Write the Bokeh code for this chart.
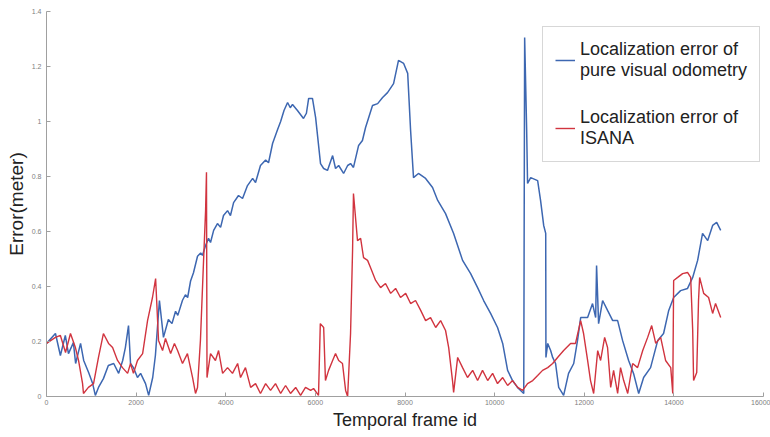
from bokeh.plotting import figure
from bokeh.models import FixedTicker, Legend, LegendItem
from bokeh.embed import file_html
from bokeh.resources import INLINE

# ---- data ----
vo_frame = [0, 200, 310, 420, 490, 600, 650, 760, 830, 940, 1030, 1090, 1160, 1270, 1380, 1500,
            1610, 1700, 1760, 1830, 1875, 1940, 2030, 2100, 2210, 2280, 2370, 2430, 2520, 2610,
            2720, 2800, 2880, 2930, 3035, 3100, 3150, 3215, 3280, 3370, 3440, 3480, 3550, 3615,
            3660, 3730, 3815, 3885, 3950, 4040, 4105, 4175, 4285, 4375, 4485, 4600, 4665, 4775,
            4890, 4955, 5045, 5155, 5225, 5300, 5380, 5440, 5490, 5600, 5735, 5800, 5850, 5935,
            6005, 6115, 6185, 6270, 6385, 6450, 6520, 6630, 6720, 6785, 6850, 6965, 7050, 7120,
            7275, 7390, 7500, 7610, 7745, 7855, 7970, 8060, 8125, 8190, 8300, 8460, 8615, 8730,
            8905, 9085, 9285, 9465, 9620, 9755, 9910, 10065, 10180, 10290, 10400, 10510, 10580,
            10650, 10670, 10715, 10735, 10805, 10960, 11025, 11095, 11140, 11145, 11185, 11250,
            11295, 11360, 11430, 11540, 11650, 11765, 11850, 11920, 12075, 12185, 12255, 12275,
            12320, 12410, 12520, 12635, 12745, 12855, 12990, 13100, 13215, 13325, 13480, 13640,
            13770, 13885, 13995, 14150, 14305, 14420, 14530, 14640, 14755, 14865, 14955, 15045]
vo_error = [0.193, 0.229, 0.149, 0.222, 0.156, 0.196, 0.12, 0.193, 0.131, 0.087, 0.047, 0.004, 0.033,
            0.065, 0.113, 0.12, 0.084, 0.131, 0.178, 0.258, 0.12, 0.105, 0.069, 0.084, 0.047, 0.004,
            0.069, 0.149, 0.349, 0.215, 0.28, 0.265, 0.31, 0.295, 0.35, 0.37, 0.36, 0.42, 0.45, 0.51,
            0.522, 0.513, 0.549, 0.575, 0.56, 0.604, 0.629, 0.615, 0.658, 0.676, 0.658, 0.705, 0.731,
            0.72, 0.767, 0.793, 0.778, 0.84, 0.86, 0.85, 0.92, 0.97, 1.0, 1.04, 1.069, 1.05, 1.062,
            1.04, 1.011, 1.03, 1.084, 1.084, 1.015, 0.847, 0.829, 0.822, 0.876, 0.829, 0.84, 0.811,
            0.84, 0.847, 0.833, 0.913, 0.931, 0.978, 1.058, 1.065, 1.087, 1.105, 1.138, 1.222, 1.211,
            1.175, 0.967, 0.796, 0.811, 0.793, 0.76, 0.713, 0.665, 0.593, 0.495, 0.447, 0.396, 0.349,
            0.302, 0.251, 0.193, 0.095, 0.058, 0.033, 0.022, 0.011, 1.305, 0.967, 0.775, 0.796, 0.785,
            0.713, 0.622, 0.593, 0.142, 0.193, 0.167, 0.142, 0.12, 0.033, 0.004, 0.084, 0.12, 0.204,
            0.287, 0.287, 0.338, 0.287, 0.476, 0.265, 0.349, 0.313, 0.276, 0.276, 0.204, 0.131, 0.084,
            0.011, 0.069, 0.105, 0.204, 0.229, 0.313, 0.36, 0.385, 0.393, 0.433, 0.495, 0.593, 0.567,
            0.622, 0.633, 0.604]

isana_frame = [0, 200, 310, 425, 535, 645, 715, 805, 825, 935, 1050, 1160, 1270, 1385, 1475, 1585,
               1695, 1810, 1875, 1940, 2030, 2145, 2255, 2365, 2435, 2500, 2590, 2655, 2770, 2855,
               2925, 3035, 3145, 3260, 3325, 3370, 3435, 3505, 3550, 3570, 3582, 3660, 3770, 3840,
               3930, 4040, 4150, 4265, 4330, 4440, 4555, 4665, 4775, 4890, 5000, 5110, 5225, 5335,
               5445, 5560, 5670, 5780, 5895, 5960, 6070, 6110, 6185, 6225, 6295, 6385, 6450, 6520,
               6605, 6675, 6720, 6785, 6830, 6850, 6940, 7010, 7075, 7165, 7230, 7345, 7455, 7565,
               7680, 7790, 7900, 8015, 8125, 8235, 8350, 8460, 8570, 8685, 8795, 8905, 8975, 9060,
               9085, 9175, 9285, 9395, 9510, 9620, 9730, 9845, 9955, 10065, 10180, 10290, 10400,
               10515, 10625, 10735, 10850, 10960, 11070, 11185, 11295, 11405, 11540, 11695, 11805,
               11920, 11985, 12075, 12140, 12210, 12300, 12365, 12455, 12520, 12590, 12655, 12745,
               12810, 12880, 12970, 13080, 13190, 13305, 13415, 13505, 13595, 13705, 13815, 13930,
               13975, 13995, 14085, 14195, 14305, 14375, 14420, 14440, 14510, 14550, 14575, 14665,
               14775, 14865, 14930, 15045]
isana_error = [0.193, 0.215, 0.222, 0.16, 0.229, 0.178, 0.131, 0.047, 0.011, 0.033, 0.047, 0.142,
               0.229, 0.193, 0.178, 0.131, 0.105, 0.084, 0.12, 0.084, 0.131, 0.156, 0.276, 0.36,
               0.429, 0.204, 0.167, 0.211, 0.156, 0.193, 0.167, 0.12, 0.156, 0.069, 0.011, 0.033,
               0.204, 0.495, 0.676, 0.815, 0.069, 0.156, 0.131, 0.167, 0.084, 0.105, 0.084, 0.12,
               0.069, 0.105, 0.033, 0.047, 0.011, 0.047, 0.022, 0.047, 0.011, 0.04, 0.011, 0.033,
               0.004, 0.033, 0.022, 0.029, 0.004, 0.265, 0.251, 0.058, 0.095, 0.131, 0.156, 0.131,
               0.12, 0.022, 0.0, 0.229, 0.531, 0.738, 0.567, 0.575, 0.505, 0.495, 0.469, 0.422,
               0.396, 0.411, 0.375, 0.393, 0.36, 0.375, 0.338, 0.349, 0.313, 0.276, 0.287, 0.251,
               0.276, 0.24, 0.178, 0.058, 0.015, 0.142, 0.105, 0.069, 0.095, 0.058, 0.095, 0.058,
               0.084, 0.047, 0.069, 0.04, 0.058, 0.033, 0.022, 0.047, 0.058, 0.076, 0.095, 0.105,
               0.12, 0.142, 0.167, 0.193, 0.193, 0.276, 0.229, 0.131, 0.058, 0.011, 0.167, 0.131,
               0.215, 0.178, 0.033, 0.095, 0.011, 0.105, 0.058, 0.011, 0.12, 0.105, 0.167, 0.215,
               0.258, 0.193, 0.215, 0.131, 0.105, 0.011, 0.422, 0.433, 0.447, 0.451, 0.433, 0.24,
               0.058, 0.087, 0.349, 0.433, 0.375, 0.36, 0.302, 0.338, 0.287]

x_ticks = [0, 2000, 4000, 6000, 8000, 10000, 12000, 14000, 16000]
y_ticks = [0, 0.2, 0.4, 0.6, 0.8, 1.0, 1.2, 1.4]
y_tick_labels = ["0", "0.2", "0.4", "0.6", "0.8", "1", "1.2", "1.4"]
label_vo = "Localization error of\npure visual odometry"
label_isana = "Localization error of\nISANA"

FONT = "Liberation Sans"

p = figure(width=770, height=437, output_backend="svg", toolbar_location=None,
           x_range=(0, 16000), y_range=(0, 1.4),
           min_border_left=46, min_border_right=7, min_border_top=11, min_border_bottom=41)
p.outline_line_color = None
p.grid.visible = False
p.background_fill_color = "white"
p.border_fill_color = "white"

r_vo = p.line(vo_frame, vo_error, line_color="#3d67b1", line_width=1.5)
r_is = p.line(isana_frame, isana_error, line_color="#d1343f", line_width=1.4)

for ax in (p.xaxis[0], p.yaxis[0]):
    ax.axis_line_color = "#a0a0a0"
    ax.major_tick_line_color = "#a0a0a0"
    ax.major_tick_in = 4
    ax.major_tick_out = 0
    ax.minor_tick_in = 0
    ax.minor_tick_out = 0
    ax.major_label_text_font = FONT
    ax.major_label_text_font_size = "7px"
    ax.major_label_text_color = "#808080"
    ax.axis_label_text_font = FONT
    ax.axis_label_text_font_style = "normal"
    ax.axis_label_text_color = "#222222"

p.xaxis.ticker = FixedTicker(ticks=x_ticks)
p.xaxis.major_label_overrides = {t: str(t) for t in x_ticks}
p.xaxis.axis_label = "Temporal frame id"
p.xaxis.axis_label_text_font_size = "18px"
p.xaxis.major_label_standoff = 3
p.xaxis.axis_label_standoff = 2

p.yaxis.ticker = FixedTicker(ticks=y_ticks)
p.yaxis.major_label_overrides = {t: l for t, l in zip(y_ticks, y_tick_labels)}
p.yaxis.axis_label = "Error(meter)"
p.yaxis.axis_label_text_font_size = "19px"
p.yaxis.major_label_standoff = 5
p.yaxis.axis_label_standoff = 2

legend = Legend(items=[LegendItem(label=label_vo, renderers=[r_vo]),
                       LegendItem(label=label_isana, renderers=[r_is])],
                location=(496, 234), padding=12, spacing=26,
                glyph_width=20, label_standoff=5, label_text_line_height=1.3,
                label_text_font=FONT, label_text_font_size="18px", label_text_color="#222222",
                border_line_color="#b0b0b0", border_line_width=1,
                background_fill_color="white", background_fill_alpha=1.0)
p.add_layout(legend)

open("out.html", "w").write(file_html(p, INLINE))
